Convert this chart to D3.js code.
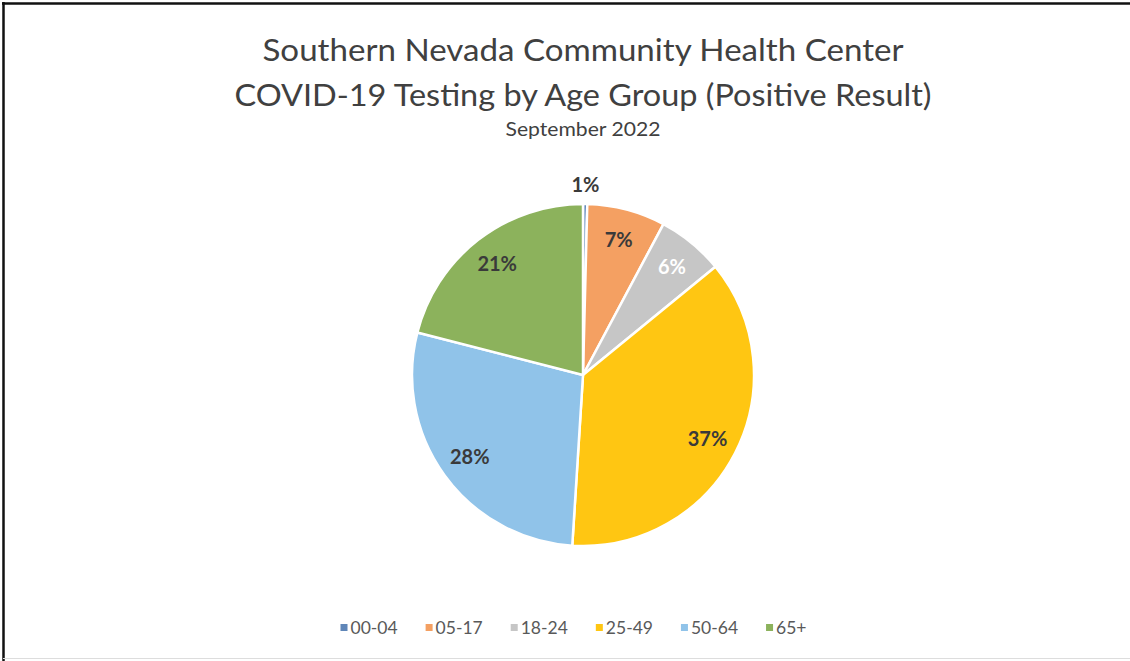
<!DOCTYPE html>
<html>
<head>
<meta charset="utf-8">
<script src="https://cdn.jsdelivr.net/npm/d3@7"></script>
<style>
  html, body { margin: 0; padding: 0; background: #ffffff; }
  svg { display: block; }
</style>
</head>
<body>
<svg id="chart" width="1130" height="661"></svg>
<script>
const titleLines = ["Southern Nevada Community Health Center", "COVID-19 Testing by Age Group (Positive Result)"];
const subtitle = "September 2022";
const categories = ["00-04", "05-17", "18-24", "25-49", "50-64", "65+"];
const values = [0.4, 7.4, 6.3, 36.9, 28.0, 21.0];
const pctLabels = ["1%", "7%", "6%", "37%", "28%", "21%"];
const colors = ["#5f86b8", "#f4a062", "#c6c6c6", "#ffc612", "#90c3e9", "#8cb25c"];
const labelColors = ["#3a3a3a", "#3a3a3a", "#ffffff", "#3a3a3a", "#3a3a3a", "#3a3a3a"];

const svg = d3.select("#chart");
const W = 1130, H = 661;
const font = "Lato, 'Open Sans', sans-serif";

svg.append("rect").attr("width", W).attr("height", H).attr("fill", "#fff");
// scan-frame borders
svg.append("line").attr("x1", 2).attr("x2", W).attr("y1", 3.5).attr("y2", 3.5)
  .attr("stroke", "#111").attr("stroke-width", 2.5);
svg.append("line").attr("x1", 3.5).attr("x2", 3.5).attr("y1", 2).attr("y2", H)
  .attr("stroke", "#111").attr("stroke-width", 2.5);
svg.append("line").attr("x1", 3).attr("x2", W).attr("y1", 658.5).attr("y2", 658.5)
  .attr("stroke", "#ddd").attr("stroke-width", 1);

const cx = 583, cy = 375, R = 171;

// titles
svg.append("text").attr("x", cx).attr("y", 61).attr("text-anchor", "middle")
  .attr("font-family", font).attr("font-size", 31).attr("fill", "#404040")
  .attr("textLength", 641).attr("lengthAdjust", "spacingAndGlyphs")
  .text(titleLines[0]);
svg.append("text").attr("x", cx).attr("y", 106).attr("text-anchor", "middle")
  .attr("font-family", font).attr("font-size", 31).attr("fill", "#404040")
  .attr("textLength", 697).attr("lengthAdjust", "spacingAndGlyphs")
  .text(titleLines[1]);
svg.append("text").attr("x", cx).attr("y", 136).attr("text-anchor", "middle")
  .attr("font-family", font).attr("font-size", 19).attr("fill", "#404040")
  .attr("textLength", 155).attr("lengthAdjust", "spacingAndGlyphs")
  .text(subtitle);

const data = categories.map((c, i) => ({ cat: c, value: values[i], label: pctLabels[i], color: colors[i], lc: labelColors[i] }));

const pie = d3.pie().value(d => d.value).sort(null);
const arcs = pie(data);
const arc = d3.arc().innerRadius(0).outerRadius(R);
const labelArc = d3.arc().innerRadius(140).outerRadius(140);
const outArc = d3.arc().innerRadius(190).outerRadius(190);

const g = svg.append("g").attr("transform", `translate(${cx},${cy})`);
g.selectAll("path").data(arcs).join("path")
  .attr("d", arc)
  .attr("fill", d => d.data.color)
  .attr("stroke", "#fff")
  .attr("stroke-width", 2.5)
  .attr("stroke-linejoin", "round");

g.selectAll("text.lbl").data(arcs).join("text")
  .attr("class", "lbl")
  .attr("transform", d => {
    const p = (d.endAngle - d.startAngle) < 0.1 ? outArc.centroid(d) : labelArc.centroid(d);
    return `translate(${p[0]},${p[1]})`;
  })
  .attr("text-anchor", "middle")
  .attr("dy", "0.35em")
  .attr("font-family", font)
  .attr("font-weight", "bold")
  .attr("font-size", 20)
  .attr("fill", d => d.data.lc)
  .text(d => d.data.label);

// legend
const lg = svg.append("g").attr("transform", "translate(0,628)");
const items = lg.selectAll("g").data(data).join("g");
items.append("rect").attr("width", 7).attr("height", 7).attr("y", -4)
  .attr("fill", d => d.color);
items.append("text").attr("x", 10).attr("dy", "0.35em")
  .attr("font-family", font).attr("font-size", 17.5).attr("fill", "#595959")
  .text(d => d.cat);
const widths = [];
items.each(function () { widths.push(this.getBBox().width); });
const gap = 28;
const total = d3.sum(widths) + gap * (widths.length - 1);
let x = (339 + 808) / 2 - total / 2;
items.attr("transform", (d, i) => { const t = `translate(${x},0)`; x += widths[i] + gap; return t; });
</script>
</body>
</html>
